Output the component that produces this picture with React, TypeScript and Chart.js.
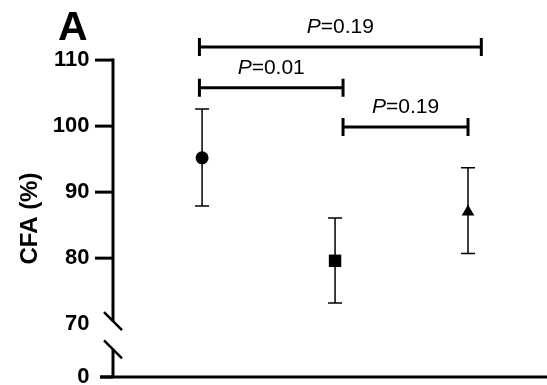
import React, { useEffect, useRef } from 'react';
import { Chart, registerables } from 'chart.js';

Chart.register(...registerables);

// ---- data ----
const groupX = [1, 2, 3];
const means = [95.2, 79.6, 87.0];
const upper = [102.6, 86.1, 93.7];
const lower = [87.9, 73.2, 80.7];
const markers = ['circle', 'rect', 'triangle'];
const markerRadius = [6.5, 8.8, 7.3];

// y axis (broken: the bottom value stands for 0)
const yTickValues = [62, 70, 80, 90, 100, 110];
const yTickLabels = ['0', '70', '80', '90', '100', '110'];
const yMin = 62;
const yMax = 119.1;
const breakTop = 70.45;
const breakBottom = 66.2;
const xMin = 0.33;
const xMax = 3.594;

// significance brackets
const bracketFrom = [0.98, 0.98, 2.06];
const bracketTo = [3.1, 2.06, 3.0];
const bracketY = [112.0, 105.8, 99.85];
const bracketP = ['0.19', '0.01', '0.19'];

const panelLabel = 'A';
const yTitle = 'CFA (%)';

const FONT = '"Liberation Sans", Arial, Helvetica, sans-serif';

const drawPlugin = {
  id: 'customDraw',
  beforeDatasetsDraw(chart: any) {
    const { ctx, chartArea, scales } = chart;
    const x = scales.x;
    const y = scales.y;
    ctx.save();
    ctx.strokeStyle = '#000';
    ctx.lineCap = 'butt';
    // error bars
    ctx.lineWidth = 1.5;
    for (let i = 0; i < groupX.length; i++) {
      const px = x.getPixelForValue(groupX[i]);
      const yt = y.getPixelForValue(upper[i]);
      const yb = y.getPixelForValue(lower[i]);
      ctx.beginPath();
      ctx.moveTo(px, yt);
      ctx.lineTo(px, yb);
      ctx.moveTo(px - 7, yt);
      ctx.lineTo(px + 7, yt);
      ctx.moveTo(px - 7, yb);
      ctx.lineTo(px + 7, yb);
      ctx.stroke();
    }
    // axes
    const left = chartArea.left;
    const topTick = yTickValues[yTickValues.length - 1];
    ctx.lineWidth = 3;
    ctx.beginPath();
    ctx.moveTo(left, y.getPixelForValue(topTick) - 1.5);
    ctx.lineTo(left, y.getPixelForValue(breakTop));
    ctx.moveTo(left, y.getPixelForValue(breakBottom));
    ctx.lineTo(left, y.getPixelForValue(yMin));
    ctx.stroke();
    // ticks
    for (const v of yTickValues) {
      if (v === 70) continue;
      const py = y.getPixelForValue(v);
      const len = v === yMin ? 13 : 18;
      ctx.beginPath();
      ctx.moveTo(left - len, py);
      ctx.lineTo(left, py);
      ctx.stroke();
    }
    // x axis
    const py0 = y.getPixelForValue(yMin);
    ctx.beginPath();
    ctx.moveTo(left - 13, py0);
    ctx.lineTo(chartArea.right, py0);
    ctx.stroke();
    // break slashes
    ctx.lineWidth = 2.5;
    for (const b of [breakTop, breakBottom]) {
      const pb = y.getPixelForValue(b);
      ctx.beginPath();
      ctx.moveTo(left - 9, pb - 9);
      ctx.lineTo(left + 9, pb + 9);
      ctx.stroke();
    }
    ctx.restore();
  },
  afterDraw(chart: any) {
    const { ctx, scales } = chart;
    const x = scales.x;
    const y = scales.y;
    ctx.save();
    ctx.strokeStyle = '#000';
    ctx.fillStyle = '#000';
    // brackets
    ctx.lineWidth = 3;
    ctx.textBaseline = 'alphabetic';
    for (let i = 0; i < bracketP.length; i++) {
      const x1 = x.getPixelForValue(bracketFrom[i]);
      const x2 = x.getPixelForValue(bracketTo[i]);
      const by = y.getPixelForValue(bracketY[i]);
      ctx.beginPath();
      ctx.moveTo(x1, by);
      ctx.lineTo(x2, by);
      ctx.moveTo(x1, by - 9);
      ctx.lineTo(x1, by + 9);
      ctx.moveTo(x2, by - 9);
      ctx.lineTo(x2, by + 9);
      ctx.stroke();
      const italic = 'italic 21px ' + FONT;
      const normal = '21px ' + FONT;
      ctx.font = italic;
      const wP = ctx.measureText('P').width;
      ctx.font = normal;
      const rest = '=' + bracketP[i];
      const wR = ctx.measureText(rest).width;
      const cx = (x1 + x2) / 2;
      const sx = cx - (wP + wR) / 2;
      ctx.textAlign = 'left';
      ctx.font = italic;
      ctx.fillText('P', sx, by - 14);
      ctx.font = normal;
      ctx.fillText(rest, sx + wP, by - 14);
    }
    // panel label
    ctx.font = 'bold 41px ' + FONT;
    ctx.textAlign = 'left';
    ctx.fillText(panelLabel, 58, 40);
    // y title
    const topTick = yTickValues[yTickValues.length - 1];
    const cy = (y.getPixelForValue(topTick) + y.getPixelForValue(yMin)) / 2;
    ctx.translate(30, cy);
    ctx.rotate(-Math.PI / 2);
    ctx.font = 'bold 24px ' + FONT;
    ctx.textAlign = 'center';
    ctx.textBaseline = 'middle';
    ctx.fillText(yTitle, 0, 0);
    ctx.restore();
  },
};

export default function App() {
  const ref = useRef<HTMLCanvasElement | null>(null);
  useEffect(() => {
    if (!ref.current) return;
    const chart = new Chart(ref.current, {
      type: 'scatter',
      data: {
        datasets: [
          {
            data: groupX.map((gx, i) => ({ x: gx, y: means[i] })),
            pointStyle: markers as any,
            pointRadius: markerRadius,
            pointBackgroundColor: '#000',
            pointBorderColor: '#000',
            pointBorderWidth: 0,
            showLine: false,
          },
        ],
      },
      options: {
        animation: false,
        responsive: false,
        layout: { autoPadding: false, padding: { top: 0, bottom: 8, left: 0, right: 0 } },
        plugins: { legend: { display: false }, tooltip: { enabled: false } },
        scales: {
          x: { type: 'linear', display: false, min: xMin, max: xMax },
          y: {
            type: 'linear',
            position: 'left',
            min: yMin,
            max: yMax,
            grid: { display: false, drawTicks: false },
            border: { display: false },
            afterBuildTicks: (s: any) => {
              s.ticks = yTickValues.map((v) => ({ value: v }));
            },
            afterFit: (s: any) => {
              s.width = 113;
              s.paddingTop = 0;
              s.paddingBottom = 0;
            },
            ticks: {
              autoSkip: false,
              padding: 23.5,
              color: '#000',
              font: { family: FONT, size: 22, weight: 'bold' },
              callback: (v: any) => {
                const idx = yTickValues.indexOf(Number(v));
                return idx >= 0 ? yTickLabels[idx] : '';
              },
            },
          },
        },
      },
      plugins: [drawPlugin],
    } as any);
    return () => chart.destroy();
  }, []);
  return (
    <div style={{ position: 'fixed', left: 0, top: 0, width: 547, height: 385, background: '#fff' }}>
      <canvas ref={ref} width={547} height={385} />
    </div>
  );
}
